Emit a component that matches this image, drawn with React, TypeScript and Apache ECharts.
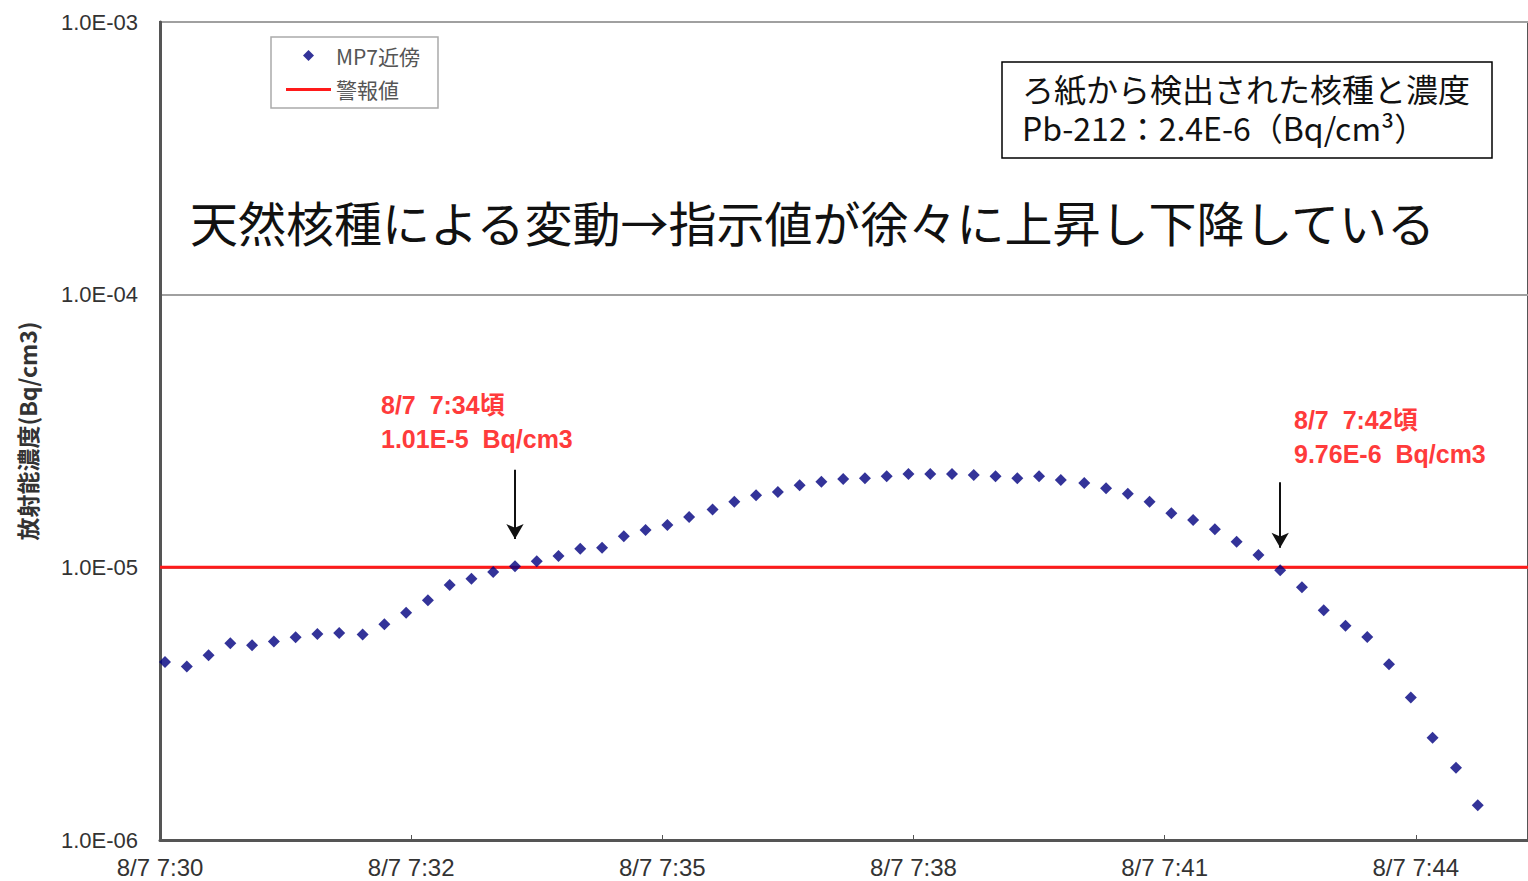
import React, { useEffect, useRef } from "react";
import * as echarts from "echarts";

// seconds after 8/7 7:30
const times = [3, 16, 29, 42, 55, 68, 81, 94, 107, 121, 134, 147, 160, 173, 186, 199, 212, 225, 238, 251, 264, 277, 290, 303, 316, 330, 343, 356, 369, 382, 395, 408, 421, 434, 447, 460, 473, 486, 499, 512, 525, 538, 552, 565, 578, 591, 604, 617, 630, 643, 656, 669, 682, 695, 708, 721, 734, 747, 760, 774, 787];

const mp7Values = [
  4.5e-6, 4.33e-6, 4.76e-6, 5.27e-6, 5.18e-6, 5.34e-6, 5.54e-6, 5.7e-6, 5.74e-6, 5.67e-6,
  6.18e-6, 6.82e-6, 7.57e-6, 8.61e-6, 9.09e-6, 9.61e-6, 1.01e-5, 1.052e-5, 1.1e-5, 1.17e-5,
  1.18e-5, 1.3e-5, 1.37e-5, 1.43e-5, 1.53e-5, 1.63e-5, 1.74e-5, 1.84e-5, 1.89e-5, 2.0e-5,
  2.06e-5, 2.11e-5, 2.12e-5, 2.16e-5, 2.2e-5, 2.2e-5, 2.2e-5, 2.18e-5, 2.16e-5, 2.12e-5,
  2.16e-5, 2.09e-5, 2.04e-5, 1.95e-5, 1.86e-5, 1.74e-5, 1.58e-5, 1.49e-5, 1.38e-5, 1.24e-5,
  1.11e-5, 9.76e-6, 8.45e-6, 6.96e-6, 6.1e-6, 5.55e-6, 4.41e-6, 3.33e-6, 2.37e-6, 1.84e-6,
  1.34e-6,
];

const warningLevel = 1.0e-5;

const xTickLabels = ["8/7 7:30", "8/7 7:32", "8/7 7:35", "8/7 7:38", "8/7 7:41", "8/7 7:44"];
const xMin = 0;
const xMax = 817;
const xInterval = 150;

const yMin = 1e-6;
const yMax = 1e-3;

// arrows: [time, from value, to value]
const arrow1 = [212, 2.28e-5, 1.27e-5];
const arrow2 = [669, 2.05e-5, 1.18e-5];

const seriesNames = ["MP7近傍", "警報値"];
const jp = '"Noto Sans CJK JP", "Noto Sans", sans-serif';
const latin = '"Liberation Sans", Arial, "Noto Sans CJK JP", sans-serif';

export default function App() {
  const ref = useRef<HTMLDivElement>(null);
  useEffect(() => {
    if (!ref.current) return;
    const chart = echarts.init(ref.current, null, { renderer: "svg" });
    const option: any = {
      animation: false,
      backgroundColor: "#ffffff",
      grid: {
        left: 160,
        right: -4,
        top: 22,
        bottom: 41,
        show: true,
        borderColor: "#555555",
        borderWidth: 2,
        backgroundColor: "transparent",
      },
      legend: {
        orient: "vertical",
        left: 271,
        top: 37,
        padding: [8, 18, 8, 15],
        itemWidth: 45,
        itemHeight: 11,
        itemGap: 13,
        backgroundColor: "#ffffff",
        borderColor: "#aaaaaa",
        borderWidth: 1.5,
        textStyle: { color: "#555555", fontSize: 21, fontFamily: jp },
        data: [
          {
            name: seriesNames[0],
            icon: "path://M0,5.5L0,5.5M45,5.5L45,5.5M22.5,0L28,5.5L22.5,11L17,5.5Z",
          },
          {
            name: seriesNames[1],
            icon: "path://M0,0L0,0M0,11L0,11M0,4L45,4L45,7L0,7Z",
          },
        ],
      },
      xAxis: {
        type: "value",
        min: xMin,
        max: xMax,
        interval: xInterval,
        axisLine: { show: true, lineStyle: { color: "#555555", width: 3 } },
        axisTick: { show: true, inside: true, length: 5, lineStyle: { color: "#555555", width: 1 } },
        splitLine: { show: false },
        axisLabel: {
          margin: 15,
          color: "#333333",
          fontSize: 24,
          fontFamily: latin,
          showMaxLabel: false,
          formatter: (v: number) => {
            const i = Math.round(v / xInterval);
            return Math.abs(v - i * xInterval) < 1e-6 ? xTickLabels[i] ?? "" : "";
          },
        },
      },
      yAxis: {
        type: "log",
        logBase: 10,
        min: yMin,
        max: yMax,
        name: "放射能濃度(Bq/cm3)",
        nameLocation: "middle",
        nameRotate: 90,
        nameGap: 122,
        nameTextStyle: { color: "#333333", fontSize: 23, fontFamily: jp, fontWeight: "bold" },
        axisLine: { show: true, lineStyle: { color: "#555555", width: 3 } },
        axisTick: { show: false },
        splitLine: { show: true, lineStyle: { color: "#a0a0a0", width: 2 } },
        axisLabel: {
          margin: 22,
          color: "#333333",
          fontSize: 22,
          fontFamily: latin,
          formatter: (v: number) => {
            const e = Math.round(Math.log10(v));
            const a = Math.abs(e);
            return "1.0E" + (e < 0 ? "-" : "+") + (a < 10 ? "0" + a : String(a));
          },
        },
      },
      series: [
        {
          name: seriesNames[1],
          type: "line",
          symbol: "none",
          showSymbol: false,
          data: [
            [xMin, warningLevel],
            [xMax, warningLevel],
          ],
          lineStyle: { color: "#ff1a1a", width: 3 },
          itemStyle: { color: "#ff1a1a" },
          z: 2,
        },
        {
          name: seriesNames[0],
          type: "scatter",
          symbol: "diamond",
          symbolSize: [12, 12],
          itemStyle: { color: "#000080" },
          data: times.map((t, i) => [t, mp7Values[i]]),
          z: 3,
          markLine: {
            silent: true,
            symbol: ["none", "arrow"],
            symbolSize: [13, 15],
            label: { show: false },
            lineStyle: { color: "#111111", width: 2, type: "solid" },
            data: [
              [
                { coord: [arrow1[0], arrow1[1]] },
                { coord: [arrow1[0], arrow1[2]] },
              ],
              [
                { coord: [arrow2[0], arrow2[1]] },
                { coord: [arrow2[0], arrow2[2]] },
              ],
            ],
          },
        },
      ],
      graphic: [
        {
          type: "text",
          left: 381,
          top: 388,
          style: {
            text: "8/7  7:34頃\n1.01E-5  Bq/cm3",
            fill: "#ff3b3b",
            font: `bold 25px ${latin}`,
            lineHeight: 34,
          },
        },
        {
          type: "text",
          left: 1294,
          top: 403,
          style: {
            text: "8/7  7:42頃\n9.76E-6  Bq/cm3",
            fill: "#ff3b3b",
            font: `bold 25px ${latin}`,
            lineHeight: 34,
          },
        },
        {
          type: "rect",
          shape: { x: 1002, y: 62, width: 490, height: 96 },
          style: { fill: "#ffffff", stroke: "#000000", lineWidth: 1.5 },
          z: 10,
        },
        {
          type: "text",
          x: 1022,
          y: 68,
          z: 11,
          style: {
            text: "ろ紙から検出された核種と濃度\nPb-212：2.4E-6（Bq/cm³）",
            fill: "#111111",
            font: `32px ${jp}`,
            lineHeight: 39,
          },
        },
        {
          type: "text",
          x: 190,
          y: 221,
          z: 11,
          style: {
            text: "天然核種による変動→指示値が徐々に上昇し下降している",
            fill: "#111111",
            font: `48px ${jp}`,
            verticalAlign: "middle",
          },
        },
      ],
    };
    chart.setOption(option);
    return () => chart.dispose();
  }, []);
  return (
    <div
      ref={ref}
      style={{ position: "fixed", left: 0, top: 0, width: 1528, height: 881, background: "#fff" }}
    />
  );
}
